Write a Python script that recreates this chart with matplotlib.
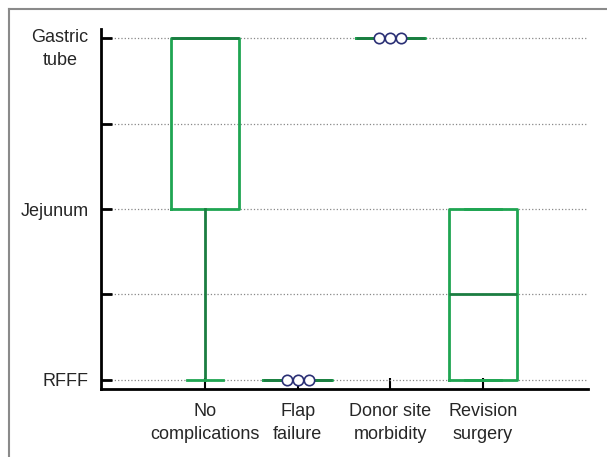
import numpy as np
import matplotlib
matplotlib.use('Agg')
import matplotlib.pyplot as plt
from matplotlib.lines import Line2D
from matplotlib.transforms import ScaledTranslation

# data (1 = RFFF, 2 = Jejunum, 3 = Gastric tube)
categories = ['No\ncomplications', 'Flap\nfailure', 'Donor site\nmorbidity', 'Revision\nsurgery']
whislo = [1, 1, 3, 1]
q1 = [2, 1, 3, 1]
med = [3, 1, 3, 1.5]
q3 = [3, 1, 3, 2]
whishi = [3, 1, 3, 2]
points = [[], [1, 1, 1], [3, 3, 3], []]

y_ticks = [1, 1.5, 2, 2.5, 3]
y_labels = ['RFFF', '', 'Jejunum', '', 'Gastric\ntube']

green = '#1fa552'
dark_green = '#1b7d41'
plt.rcParams['font.family'] = ['Liberation Sans', 'DejaVu Sans']

fig = plt.figure(figsize=(6.07, 4.57), dpi=100)
ax = fig.add_axes([0.1664, 0.1488, 0.8023, 0.7877])

positions = np.arange(1, len(categories) + 1)
stats = []
for i in range(len(categories)):
    stats.append(dict(whislo=whislo[i], q1=q1[i], med=med[i], q3=q3[i],
                      whishi=whishi[i], fliers=[]))

ax.bxp(stats, positions=positions, widths=0.74, capwidths=0.39,
       showfliers=False,
       boxprops=dict(color=green, linewidth=2),
       medianprops=dict(color=dark_green, linewidth=2),
       whiskerprops=dict(color=dark_green, linewidth=2),
       capprops=dict(color=green, linewidth=2), zorder=3)

# repeated values drawn as small open circles side by side
offsets = [-0.12, 0, 0.12]
for pos, vals in zip(positions, points):
    if vals:
        xs = [pos + offsets[k] for k in range(len(vals))]
        ax.plot(xs, vals, 'o', ms=7.5, mfc='white', mec='#2b3075', mew=1.2, zorder=4)

ax.set_xlim(-0.122, 5.133)
ax.set_ylim(0.947, 3.053)
ax.set_xticks(positions)
ax.set_xticklabels(categories, fontsize=13, color='#262626', linespacing=1.45)
ax.set_yticks(y_ticks)
ax.set_yticklabels(y_labels, fontsize=13, color='#262626', linespacing=1.45,
                   multialignment='center')
ax.tick_params(axis='y', direction='in', length=8, width=2, pad=9)
ax.tick_params(axis='x', direction='in', length=8, width=1.5, pad=10)

ax.yaxis.grid(True, linestyle=':', color='#888888', linewidth=0.9)
ax.set_axisbelow(True)
for s in ['top', 'right']:
    ax.spines[s].set_visible(False)
for s in ['left', 'bottom']:
    ax.spines[s].set_linewidth(2)

lbl = ax.get_yticklabels()[-1]
lbl.set_transform(lbl.get_transform() + ScaledTranslation(0, -0.06, fig.dpi_scale_trans))

# frame lines on the top and left of the figure
fig.add_artist(Line2D([8.5 / 607, 8.5 / 607], [0, 1 - 8.5 / 457], color='#8a8a8a', lw=1.5))
fig.add_artist(Line2D([8.5 / 607, 1], [1 - 8.5 / 457, 1 - 8.5 / 457], color='#8a8a8a', lw=1.5))

fig.savefig('out.png', dpi=100)
